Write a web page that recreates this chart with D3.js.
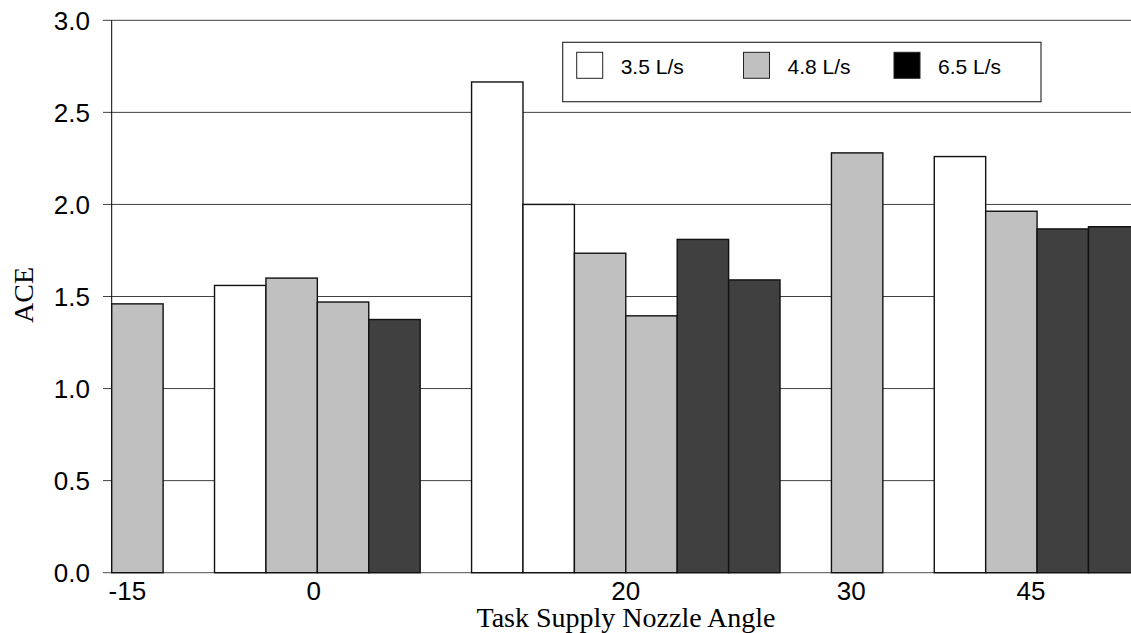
<!DOCTYPE html>
<html>
<head>
<meta charset="utf-8">
<script src="https://cdn.jsdelivr.net/npm/d3@7"></script>
<style>
  html, body { margin: 0; padding: 0; background: #fff; }
  svg { display: block; }
</style>
</head>
<body>
<svg id="chart" width="1131" height="633"></svg>
<script>
// ---- data ----
const groups = ["-15", "0", "20", "30", "45"];
const seriesNames = ["3.5 L/s", "4.8 L/s", "6.5 L/s"];
const seriesFill = ["#ffffff", "#c0c0c0", "#404040"];
const legendFill = ["#ffffff", "#c0c0c0", "#000000"];
const barGroup  = ["-15", "0", "0", "0", "0", "20", "20", "20", "20", "20", "20", "30", "45", "45", "45", "45"];
const barSeries = [1, 0, 1, 1, 2, 0, 0, 1, 1, 2, 2, 1, 0, 1, 2, 2];
const barValue  = [1.46, 1.56, 1.60, 1.47, 1.375, 2.665, 2.00, 1.735, 1.395, 1.81, 1.59, 2.28, 2.26, 1.963, 1.867, 1.879];
const yTicks = [0, 0.5, 1.0, 1.5, 2.0, 2.5, 3.0];
const yTitle = "ACE";
const xTitle = "Task Supply Nozzle Angle";

// ---- layout (styling only) ----
const labelNudge = [-10, -3.5, 0, -6, -6];
const svg = d3.select("#chart");
const pLeft = 111.7, pRight = 1131, pTop = 20.3, pBottom = 572.7;

// assign slots: one empty slot between groups
const bars = [];
let slot = -1, prev = null;
barValue.forEach((v, i) => {
  if (prev !== null && barGroup[i] !== prev) slot += 1;
  slot += 1;
  prev = barGroup[i];
  bars.push({ slot, group: barGroup[i], series: barSeries[i], value: v });
});
const nSlots = slot + 1;

const x = d3.scaleBand().domain(d3.range(nSlots)).range([pLeft, pLeft + 51.41 * nSlots]).padding(0);
const y = d3.scaleLinear().domain([0, 3]).range([pBottom, pTop]);

svg.append("defs").append("clipPath").attr("id", "plotclip")
  .append("rect").attr("x", pLeft - 2).attr("y", 0).attr("width", pRight - pLeft + 2).attr("height", 633);

// gridlines + ticks
svg.append("g").selectAll("line").data(yTicks.filter(d => d > 0)).join("line")
  .attr("x1", 103).attr("x2", pRight)
  .attr("y1", d => y(d)).attr("y2", d => y(d))
  .attr("stroke", "#404040").attr("stroke-width", 1);

// baseline
svg.append("line").attr("x1", 103).attr("x2", pRight)
  .attr("y1", y(0)).attr("y2", y(0))
  .attr("stroke", "#707070").attr("stroke-width", 1.3);

// y axis line
svg.append("line").attr("x1", pLeft).attr("x2", pLeft).attr("y1", pTop).attr("y2", pBottom)
  .attr("stroke", "#000").attr("stroke-width", 1);

// y tick labels
svg.append("g").selectAll("text").data(yTicks).join("text")
  .attr("x", 90).attr("y", d => y(d))
  .attr("dy", "0.36em")
  .attr("text-anchor", "end")
  .attr("font-family", "Liberation Sans, Arial, sans-serif")
  .attr("font-size", 26)
  .attr("fill", "#000")
  .text(d => d.toFixed(1));

// bars
svg.append("g").attr("clip-path", "url(#plotclip)")
  .selectAll("rect").data(bars).join("rect")
  .attr("x", d => x(d.slot))
  .attr("width", x.bandwidth())
  .attr("y", d => y(d.value))
  .attr("height", d => y(0) - y(d.value))
  .attr("fill", d => seriesFill[d.series])
  .attr("stroke", "#111")
  .attr("stroke-width", 1.4);

// x tick labels at group centers
const groupCenters = groups.map((g, i) => {
  const s = bars.filter(b => b.group === g).map(b => b.slot);
  return { g, cx: (x(d3.min(s)) + x(d3.max(s)) + x.bandwidth()) / 2 + labelNudge[i] };
});
svg.append("g").selectAll("text").data(groupCenters).join("text")
  .attr("x", d => d.cx).attr("y", 600)
  .attr("text-anchor", "middle")
  .attr("font-family", "Liberation Sans, Arial, sans-serif")
  .attr("font-size", 26)
  .attr("fill", "#000")
  .text(d => d.g);

// axis titles
svg.append("text")
  .attr("x", 626).attr("y", 627)
  .attr("text-anchor", "middle")
  .attr("font-family", "Liberation Serif, Times New Roman, serif")
  .attr("font-size", 28)
  .attr("fill", "#000")
  .text(xTitle);

svg.append("text")
  .attr("transform", "translate(33,295) rotate(-90)")
  .attr("text-anchor", "middle")
  .attr("font-family", "Liberation Serif, Times New Roman, serif")
  .attr("font-size", 28)
  .attr("fill", "#000")
  .text(yTitle);

// legend
const lg = svg.append("g");
lg.append("rect").attr("x", 562.7).attr("y", 42.3).attr("width", 1041 - 562.7).attr("height", 101.7 - 42.3)
  .attr("fill", "#fff").attr("stroke", "#333").attr("stroke-width", 1.2);
const legX = [576.7, 743.5, 894];
const items = lg.selectAll("g.item").data(seriesNames).join("g").attr("class", "item");
items.append("rect")
  .attr("x", (d, i) => legX[i]).attr("y", 52.3)
  .attr("width", 26).attr("height", 26)
  .attr("fill", (d, i) => legendFill[i])
  .attr("stroke", "#222").attr("stroke-width", 1);
items.append("text")
  .attr("x", (d, i) => legX[i] + 44).attr("y", 73.5)
  .attr("font-family", "Liberation Sans, Arial, sans-serif")
  .attr("font-size", 21)
  .attr("fill", "#000")
  .text(d => d);
</script>
</body>
</html>
